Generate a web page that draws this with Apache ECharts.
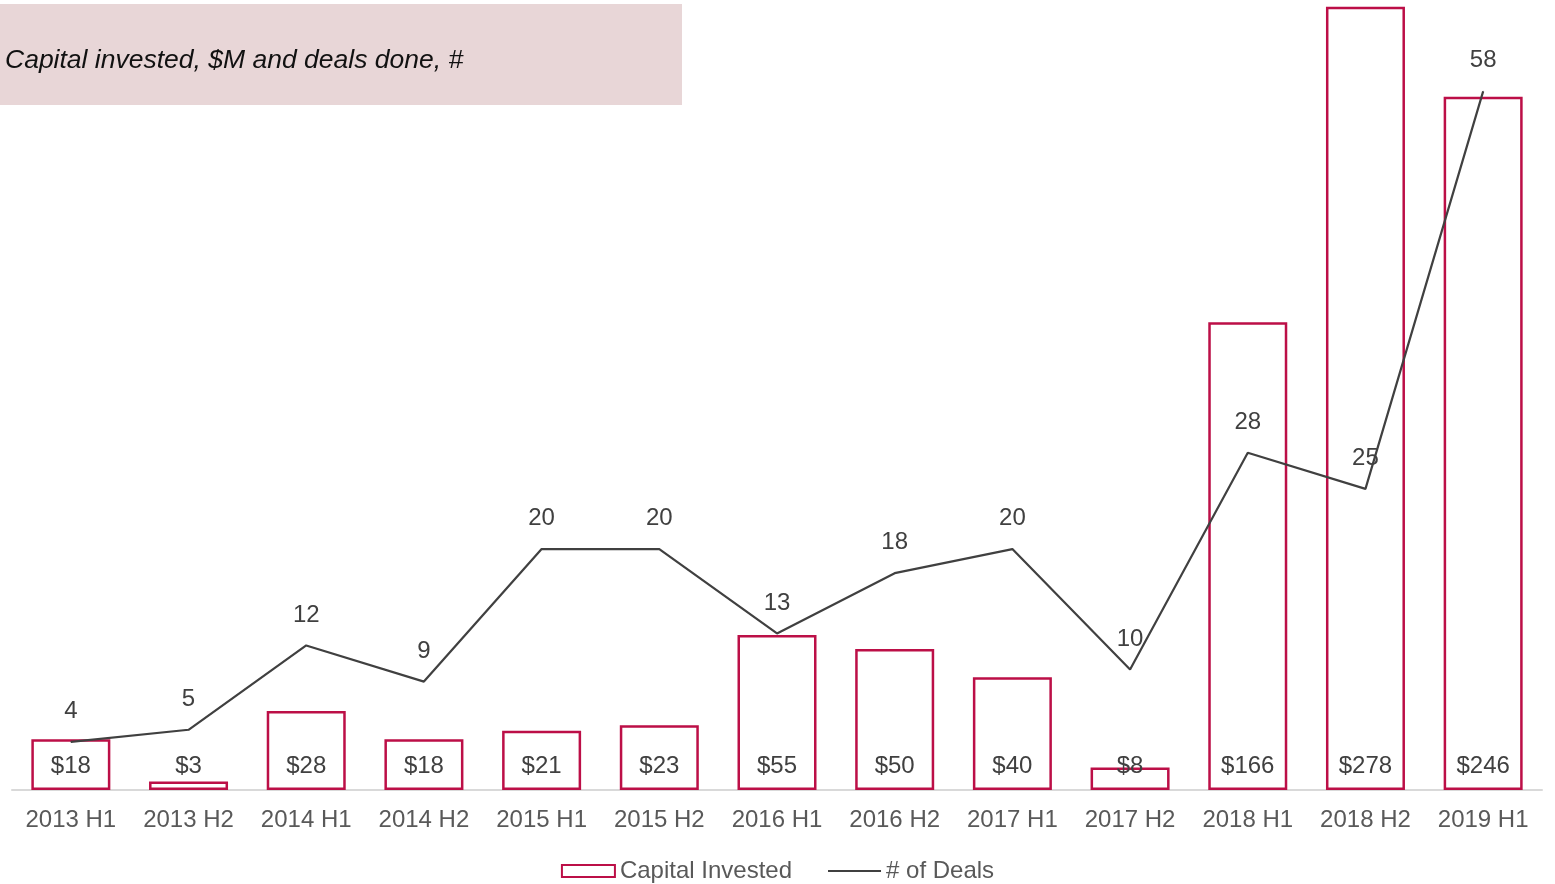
<!DOCTYPE html>
<html>
<head>
<meta charset="utf-8">
<script src="https://cdn.jsdelivr.net/npm/echarts@6/dist/echarts.min.js"></script>
<style>
html,body{margin:0;padding:0;background:#fff;}
#chart{width:1555px;height:884px;}
</style>
</head>
<body>
<div id="chart"></div>
<script>
const categories = ['2013 H1','2013 H2','2014 H1','2014 H2','2015 H1','2015 H2','2016 H1','2016 H2','2017 H1','2017 H2','2018 H1','2018 H2','2019 H1'];
const capitalInvested = [18,3,28,18,21,23,55,50,40,8,166,278,246];
const dealCount = [4,5,12,9,20,20,13,18,20,10,28,25,58];
const titleText = 'Capital invested, $M and deals done, #';

const chart = echarts.init(document.getElementById('chart'), null, {renderer:'canvas'});
const FONT = '"Liberation Sans", Arial, sans-serif';
chart.setOption({
  animation:false,
  backgroundColor:'#ffffff',
  textStyle:{fontFamily:FONT},
  graphic:[
    {type:'rect', left:0, top:4, z:-1, shape:{width:682, height:101}, style:{fill:'#E8D6D7'}},
    {type:'text', left:5, top:47, style:{text:titleText, font:'italic 26.5px "Liberation Sans", Arial, sans-serif', fill:'#111111'}}
  ],
  grid:{left:12, right:13, top:1, bottom:94, containLabel:false},
  legend:{
    top:854, left:'center',
    itemWidth:53, itemHeight:12, itemGap:36,
    symbolKeepAspect:true,
    textStyle:{fontSize:24, color:'#595959', fontFamily:FONT},
    data:[
      {name:'Capital Invested', icon:'rect'},
      {name:'# of Deals', icon:'path://M0,0 L106,0 L106,4 L0,4 Z'}
    ]
  },
  xAxis:{
    type:'category', data:categories,
    axisLine:{lineStyle:{color:'#D9D9D9', width:2}},
    axisTick:{show:false},
    axisLabel:{fontSize:24, color:'#595959', margin:18, interval:0, fontFamily:FONT}
  },
  yAxis:[
    {type:'value', min:0, max:280, show:false, splitLine:{show:false}},
    {type:'value', min:0, max:65.5, show:false, splitLine:{show:false}}
  ],
  series:[
    {
      name:'Capital Invested', type:'bar', data:capitalInvested, barWidth:79,
      itemStyle:{color:'#ffffff', borderColor:'#BC0F47', borderWidth:2.5},
      label:{show:true, position:'insideBottom', distance:12, fontSize:24, color:'#404040', fontFamily:FONT,
        formatter:p=>'$'+p.value}
    },
    {
      name:'# of Deals', type:'line', yAxisIndex:1, data:dealCount, symbol:'circle', symbolSize:1, showSymbol:true, z:5,
      lineStyle:{color:'#404040', width:2.2},
      itemStyle:{color:'#404040'},
      label:{show:true, position:'top', distance:18, fontSize:24, color:'#404040', fontFamily:FONT}
    }
  ]
});
</script>
</body>
</html>
